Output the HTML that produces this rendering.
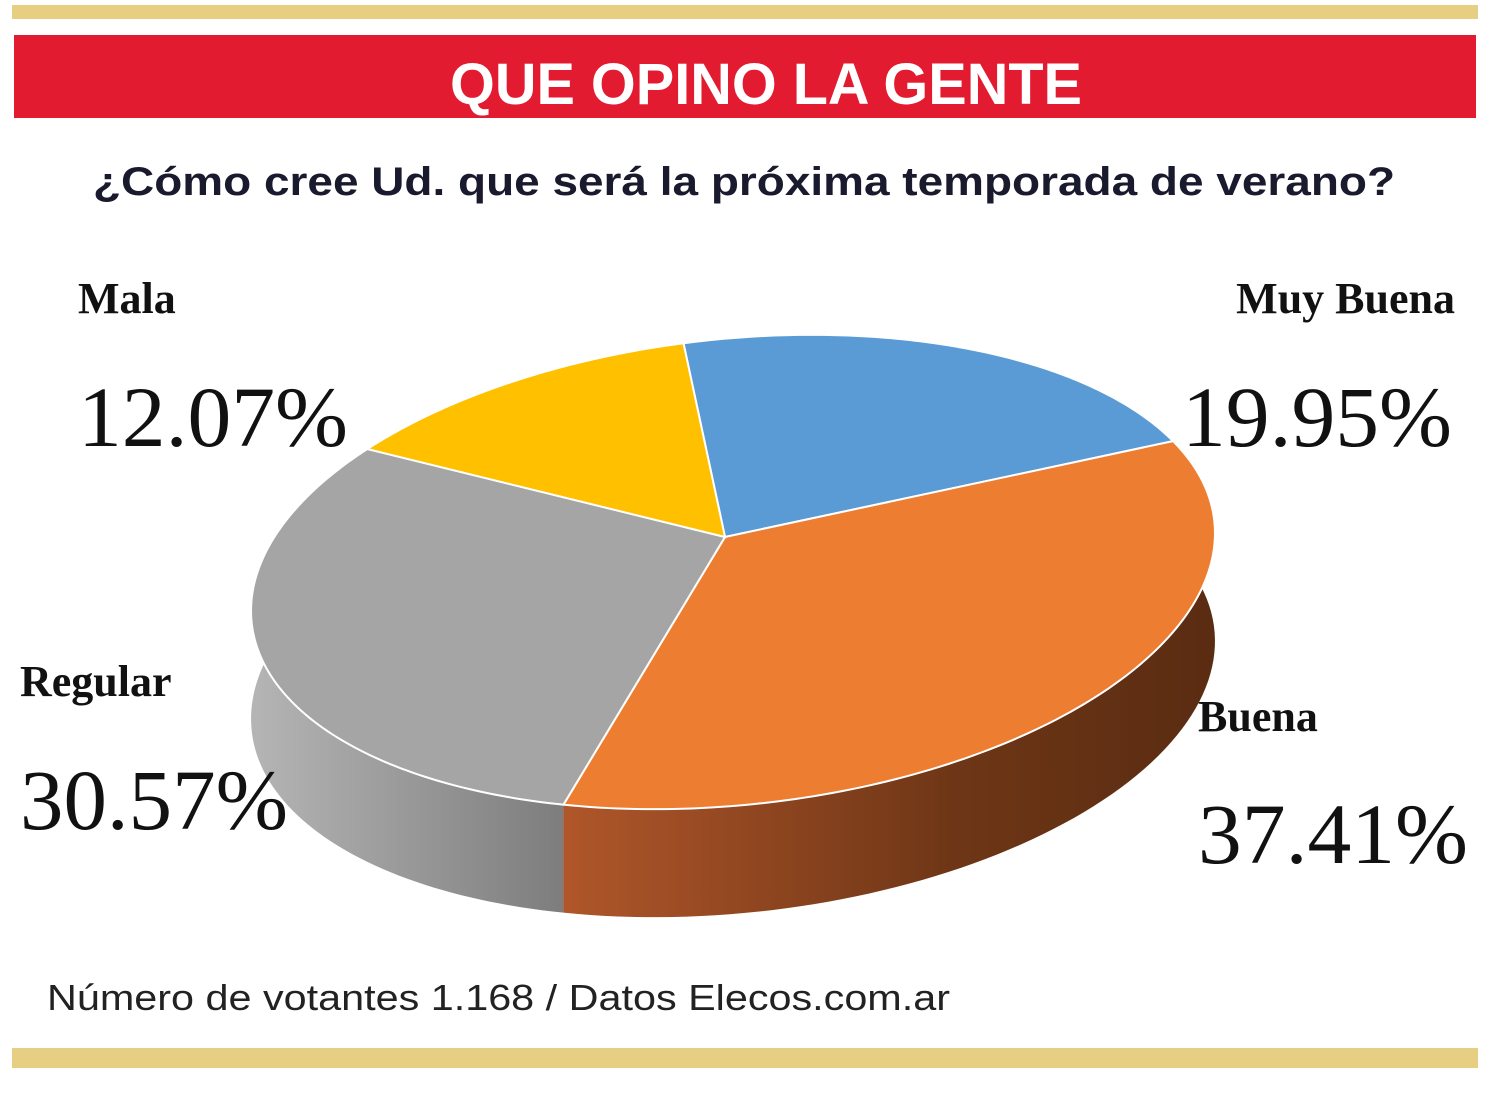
<!DOCTYPE html>
<html><head><meta charset="utf-8"><style>
html,body{margin:0;padding:0;background:#fff;}
svg{display:block;}
</style></head><body>
<svg width="1500" height="1097" viewBox="0 0 1500 1097" xmlns="http://www.w3.org/2000/svg">
<defs>
<linearGradient id="gOr" x1="0" x2="1" y1="0" y2="0"><stop offset="0" stop-color="#b0562a"/><stop offset="0.6" stop-color="#6e3616"/><stop offset="1" stop-color="#5a2c12"/></linearGradient>
<linearGradient id="gGr" x1="0" x2="1" y1="0" y2="0"><stop offset="0" stop-color="#b5b5b5"/><stop offset="1" stop-color="#7d7d7d"/></linearGradient>
<linearGradient id="gBl" x1="0" x2="1"><stop offset="0" stop-color="#3f6e9b"/><stop offset="1" stop-color="#2d5070"/></linearGradient>
<linearGradient id="gYe" x1="0" x2="1"><stop offset="0" stop-color="#b08500"/><stop offset="1" stop-color="#8a6800"/></linearGradient>
</defs>
<rect x="12" y="5" width="1466" height="14" fill="#e6cf82"/>
<rect x="14" y="35" width="1462" height="83" fill="#e21b30"/>
<text x="766" y="104" text-anchor="middle" font-family="Liberation Sans, sans-serif" font-weight="bold" font-size="58" fill="#fff" textLength="632" lengthAdjust="spacingAndGlyphs">QUE OPINO LA GENTE</text>
<text x="744" y="195" text-anchor="middle" font-family="Liberation Sans, sans-serif" font-weight="bold" font-size="40" fill="#1a1a2e" textLength="1302" lengthAdjust="spacingAndGlyphs">¿Cómo cree Ud. que será la próxima temporada de verano?</text>
<g id="pie"></g>
<g font-family="Liberation Serif, serif" fill="#111">
<text x="78" y="313" font-size="44" font-weight="bold">Mala</text>
<text x="78" y="446" font-size="86" textLength="270" lengthAdjust="spacingAndGlyphs">12.07%</text>
<text x="1455" y="313" font-size="44" font-weight="bold" text-anchor="end">Muy Buena</text>
<text x="1182" y="446" font-size="86" textLength="270" lengthAdjust="spacingAndGlyphs">19.95%</text>
<text x="20" y="696" font-size="44" font-weight="bold">Regular</text>
<text x="20" y="829" font-size="86" textLength="268" lengthAdjust="spacingAndGlyphs">30.57%</text>
<text x="1198" y="731" font-size="44" font-weight="bold">Buena</text>
<text x="1198" y="863" font-size="86" textLength="270" lengthAdjust="spacingAndGlyphs">37.41%</text>
</g>
<text x="47" y="1010" font-family="Liberation Sans, sans-serif" font-size="36" fill="#222" textLength="903" lengthAdjust="spacingAndGlyphs">Número de votantes 1.168 / Datos Elecos.com.ar</text>
<rect x="12" y="1048" width="1466" height="20" fill="#e6cf82"/>
</svg>
<script>
const categories=["Muy Buena","Buena","Regular","Mala"];
const values=[19.95,37.41,30.57,12.07];
const topColors=["#5b9bd5","#ed7d31","#a5a5a5","#ffc000"];
const sideFills=["url(#gBl)","url(#gOr)","url(#gGr)","url(#gYe)"];
const cx=733,cy=572,rx=484,ry=233,rot=-6*Math.PI/180,depth=108,startDeg=-93;
const vx=725,vy=537;
function pt(t,dy){const x=rx*Math.cos(t),y=ry*Math.sin(t);
 return [cx+x*Math.cos(rot)-y*Math.sin(rot), cy+x*Math.sin(rot)+y*Math.cos(rot)+(dy||0)];}
const total=values.reduce((a,b)=>a+b,0);
const g=document.getElementById('pie');
const NS="http://www.w3.org/2000/svg";
let angles=[];let a=startDeg*Math.PI/180;
values.forEach(v=>{const b=a+v/total*2*Math.PI;angles.push([a,b]);a=b;});
angles.forEach(([t0,t1],i)=>{
 let top=[],bot=[];const n=80;
 for(let k=0;k<=n;k++){const t=t0+(t1-t0)*k/n;top.push(pt(t,0));bot.push(pt(t,depth));}
 const d="M"+top.map(p=>p.join(",")).join(" L")+" L"+bot.reverse().map(p=>p.join(",")).join(" L")+" Z";
 const p=document.createElementNS(NS,'path');
 p.setAttribute('d',d);p.setAttribute('fill',sideFills[i]);
 
 
 g.appendChild(p);
});
angles.forEach(([t0,t1],i)=>{
 let pts=[[vx,vy]];const n=120;
 for(let k=0;k<=n;k++){pts.push(pt(t0+(t1-t0)*k/n,0));}
 const p=document.createElementNS(NS,'path');
 p.setAttribute('d',"M"+pts.map(q=>q.join(",")).join(" L")+" Z");
 p.setAttribute('fill',topColors[i]);p.setAttribute('stroke','#fff');p.setAttribute('stroke-width','2');
 
 
 g.appendChild(p);
});
</script>
</body></html>
